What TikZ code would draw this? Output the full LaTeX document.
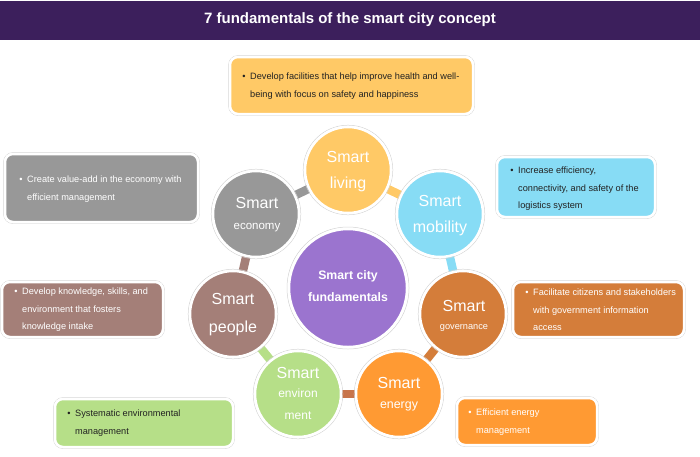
\documentclass[tikz,border=0pt]{standalone}
\usepackage{fontspec}
\setmainfont{Liberation Sans}
\definecolor{titlebg}{HTML}{3C1F5C}
\definecolor{cliving}{HTML}{FFC966}
\definecolor{cmobility}{HTML}{87DCF5}
\definecolor{cgovern}{HTML}{D47D3A}
\definecolor{cenergy}{HTML}{FF9A33}
\definecolor{cenviron}{HTML}{B6DF88}
\definecolor{cpeople}{HTML}{A47F78}
\definecolor{ceconomy}{HTML}{989898}
\definecolor{ccenter}{HTML}{9B74CF}
\definecolor{cenlink}{HTML}{C8744A}
\definecolor{darktext}{HTML}{222222}
\tikzset{
  ring/.style={circle, minimum size=86pt, inner sep=0pt, draw=white, line width=2.5pt},
  halo/.style={draw=gray!35, line width=0.5pt},
  link/.style={line width=8.5pt},
  infobox/.style={draw=white, line width=2.5pt, rounded corners=8pt},
  lbl/.style={text=white, inner sep=0pt, anchor=base},
  boxtext/.style={inner sep=0pt, anchor=north west, align=left,
    font=\fontsize{9.2}{17.3}\selectfont},
}
\begin{document}
\begin{tikzpicture}[x=1pt,y=-1pt]
\useasboundingbox (0,0) rectangle (700,456);
% title
\fill[titlebg] (0,1) rectangle (700,40);
\node[text=white, font=\fontsize{15}{15}\selectfont\bfseries, inner sep=0pt] (title) at (350,20) {7 fundamentals of the smart city concept};

% ring coordinates
\coordinate (c0) at (348,288);
\coordinate (pliv) at (348,170);
\coordinate (pmob) at (440,214);
\coordinate (pgov) at (463,314);
\coordinate (pene) at (399,394);
\coordinate (penv) at (298,394);
\coordinate (ppeo) at (233,314);
\coordinate (peco) at (256,214);

% connectors
\draw[link, cliving] (pliv) -- (pmob);
\draw[link, cmobility] (pmob) -- (pgov);
\draw[link, cgovern] (pgov) -- (pene);
\draw[link, cenlink] (pene) -- (penv);
\draw[link, cenviron] (penv) -- (ppeo);
\draw[link, cpeople] (ppeo) -- (peco);
\draw[link, ceconomy] (peco) -- (pliv);

% circles
\foreach \p in {pliv,pmob,pgov,pene,penv,ppeo,peco}{
  \draw[halo] (\p) circle (44.8pt);
}
\draw[halo] (c0) circle (61pt);
\node[ring, fill=cliving] (living) at (pliv) {};
\node[ring, fill=cmobility] (mobility) at (pmob) {};
\node[ring, fill=cgovern] (governance) at (pgov) {};
\node[ring, fill=cenergy] (energy) at (pene) {};
\node[ring, fill=cenviron] (environment) at (penv) {};
\node[ring, fill=cpeople] (people) at (ppeo) {};
\node[ring, fill=ceconomy] (economy) at (peco) {};
\node[ring, minimum size=118pt, fill=ccenter] (center) at (c0) {};

% circle labels
\node[lbl, font=\fontsize{16}{16}\selectfont] (liv1) at (348,162) {Smart};
\node[lbl, font=\fontsize{16}{16}\selectfont] (liv2) at (348,188) {living};
\node[lbl, font=\fontsize{16}{16}\selectfont] (mob1) at (440,206) {Smart};
\node[lbl, font=\fontsize{16}{16}\selectfont] (mob2) at (440,232) {mobility};
\node[lbl, font=\fontsize{16}{16}\selectfont] (eco1) at (257,208) {Smart};
\node[lbl, font=\fontsize{11.5}{12}\selectfont] (eco2) at (257,229) {economy};
\node[lbl, font=\fontsize{16}{16}\selectfont] (peo1) at (233,304) {Smart};
\node[lbl, font=\fontsize{16}{16}\selectfont] (peo2) at (233,332) {people};
\node[lbl, font=\fontsize{16}{16}\selectfont] (gov1) at (464,311) {Smart};
\node[lbl, font=\fontsize{9.2}{10}\selectfont] (gov2) at (464,329) {governance};
\node[lbl, font=\fontsize{16}{16}\selectfont] (env1) at (298,378) {Smart};
\node[lbl, font=\fontsize{12}{12}\selectfont] (env2) at (298,397) {environ};
\node[lbl, font=\fontsize{12}{12}\selectfont] (env3) at (298,419) {ment};
\node[lbl, font=\fontsize{16}{16}\selectfont] (ene1) at (399,388) {Smart};
\node[lbl, font=\fontsize{12.4}{13}\selectfont] (ene2) at (399,408) {energy};
\node[lbl, font=\fontsize{12.3}{13}\selectfont\bfseries] (cen1) at (348,279) {Smart city};
\node[lbl, font=\fontsize{12.3}{13}\selectfont\bfseries] (cen2) at (348,301) {fundamentals};

% info boxes
\draw[halo, rounded corners=9.5pt] (228.5,55.5) rectangle (474.5,115.5);
\draw[infobox, fill=cliving] (230,57) rectangle (473,114);
\node[boxtext, text=darktext] (tliv) at (250,73) {\llap{\textbullet\hspace{4.5pt}}Develop facilities that help improve health and well-\\being with focus on safety and happiness};

\draw[halo, rounded corners=9.5pt] (3.5,152.5) rectangle (199.5,223.5);
\draw[infobox, fill=ceconomy] (5,154) rectangle (198,222);
\node[boxtext, text=white] (teco) at (27,176) {\llap{\textbullet\hspace{4.5pt}}Create value-add in the economy with\\efficient management};

\draw[halo, rounded corners=9.5pt] (0.5,280.5) rectangle (164.5,338.5);
\draw[infobox, fill=cpeople] (2,282) rectangle (163,337);
\node[boxtext, text=white] (tpeo) at (22,288) {\llap{\textbullet\hspace{4.5pt}}Develop knowledge, skills, and\\environment that fosters\\knowledge intake};

\draw[halo, rounded corners=9.5pt] (495.5,155.5) rectangle (656.5,218.5);
\draw[infobox, fill=cmobility] (497,157) rectangle (655,217);
\node[boxtext, text=darktext] (tmob) at (518,167) {\llap{\textbullet\hspace{4.5pt}}Increase efficiency,\\connectivity, and safety of the\\logistics system};

\draw[halo, rounded corners=9.5pt] (511.5,280.5) rectangle (685.5,338.5);
\draw[infobox, fill=cgovern] (513,282) rectangle (684,337);
\node[boxtext, text=white] (tgov) at (533,289) {\llap{\textbullet\hspace{4.5pt}}Facilitate citizens and stakeholders\\with government information\\access};

\draw[halo, rounded corners=9.5pt] (53.5,397.5) rectangle (234.5,448.5);
\draw[infobox, fill=cenviron] (55,399) rectangle (233,447);
\node[boxtext, text=darktext] (tenv) at (75,410) {\llap{\textbullet\hspace{4.5pt}}Systematic environmental\\management};

\draw[halo, rounded corners=9.5pt] (455.5,396.5) rectangle (598.5,446.5);
\draw[infobox, fill=cenergy] (457,398) rectangle (597,445);
\node[boxtext, text=white] (tene) at (476,409) {\llap{\textbullet\hspace{4.5pt}}Efficient energy\\management};
\end{tikzpicture}
\end{document}
